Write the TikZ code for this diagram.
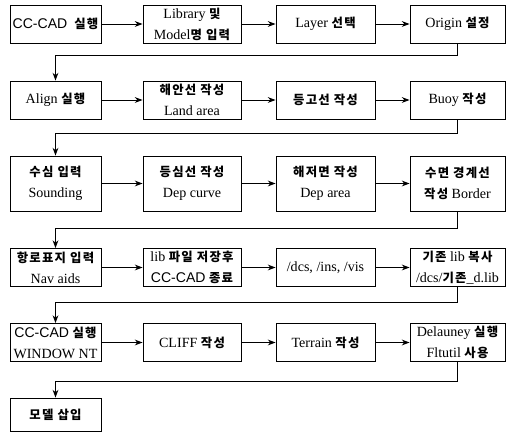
\documentclass[tikz,border=0pt]{standalone}
\usepackage{fontspec}
\setmainfont{Liberation Serif}
\setsansfont{Liberation Sans}
\newfontfamily\krfont{Noto Sans CJK KR}[Scale=0.88,LetterSpace=10]
\newcommand{\kr}[1]{{\krfont\bfseries #1}}
\usetikzlibrary{arrows.meta}

\tikzset{
  box/.style={draw,line width=0.8pt,minimum height=1.14cm,inner sep=1pt,align=center,
    font=\fontsize{12}{18}\selectfont},
  wa/.style={minimum width=2.73cm},
  wb/.style={minimum width=2.94cm},
  wc/.style={minimum width=2.97cm},
  wd/.style={minimum width=2.85cm},
  tall/.style={minimum height=1.65cm}
}

\begin{document}
\begin{tikzpicture}[line width=0.8pt,>=Stealth]
\useasboundingbox (0,0) rectangle (15.21,12.96);
% 1행
\node[box,wa] (cad)    at (1.665,12.24) {\textsf{CC-CAD}\ \ \kr{실행}};
\node[box,wb] (lib)    at (5.76,12.24)  {Library \kr{및}\\Model\kr{명 입력}};
\node[box,wc] (layer)  at (9.765,12.24) {Layer \kr{선택}};
\node[box,wd] (origin) at (13.725,12.24) {Origin \kr{설정}};
% 2행
\node[box,wa] (align)   at (1.665,9.96)  {Align \kr{실행}};
\node[box,wb] (land)    at (5.76,9.96)   {\kr{해안선 작성}\\Land area};
\node[box,wc] (contour) at (9.765,9.96)  {\kr{등고선 작성}};
\node[box,wd] (buoy)    at (13.725,9.96) {Buoy \kr{작성}};
% 3행
\node[box,tall,wa] (sounding) at (1.665,7.455)  {\kr{수심 입력}\\Sounding};
\node[box,tall,wb] (depcurve) at (5.76,7.455)   {\kr{등심선 작성}\\Dep curve};
\node[box,tall,wc] (deparea)  at (9.765,7.455)  {\kr{해저면 작성}\\Dep area};
\node[box,tall,wd] (border)   at (13.725,7.455) {\kr{수면 경계선}\\\kr{작성} Border};
% 4행
\node[box,wa] (navaids) at (1.665,4.935)  {\kr{항로표지 입력}\\Nav aids};
\node[box,wb] (libsave) at (5.76,4.935)   {lib \kr{파일 저장후}\\\textsf{CC-CAD} \kr{종료}};
\node[box,wc] (dcs)     at (9.765,4.935)  {/dcs, /ins, /vis};
\node[box,wd] (libcopy) at (13.725,4.935) {\kr{기존} lib \kr{복사}\\/dcs/\kr{기존}\_d.lib};
% 5행
\node[box,wa] (cadnt)    at (1.665,2.685)  {\textsf{CC-CAD} \kr{실행}\\WINDOW NT};
\node[box,wb] (cliff)    at (5.76,2.685)   {CLIFF \kr{작성}};
\node[box,wc] (terrain)  at (9.765,2.685)  {Terrain \kr{작성}};
\node[box,wd] (delauney) at (13.725,2.685) {Delauney \kr{실행}\\Fltutil \kr{사용}};
% 6행
\node[box,wa,minimum height=0.99cm] (model) at (1.665,0.525) {\kr{모델 삽입}};
% 가로 화살표
\foreach \a/\b in {cad/lib,lib/layer,layer/origin,align/land,land/contour,contour/buoy,
  sounding/depcurve,depcurve/deparea,deparea/border,navaids/libsave,libsave/dcs,dcs/libcopy,
  cadnt/cliff,cliff/terrain,terrain/delauney}
  \draw[->] (\a) -- (\b);
% 줄바꿈 연결선
\foreach \a/\b/\d in {origin/align/0.36,buoy/sounding/0.42,border/navaids/0.51,
  libcopy/cadnt/0.48,delauney/model/0.6}
  \draw[->] (\a.south) -- ++(0,-\d) -| (\b.north);
\end{tikzpicture}
\end{document}
